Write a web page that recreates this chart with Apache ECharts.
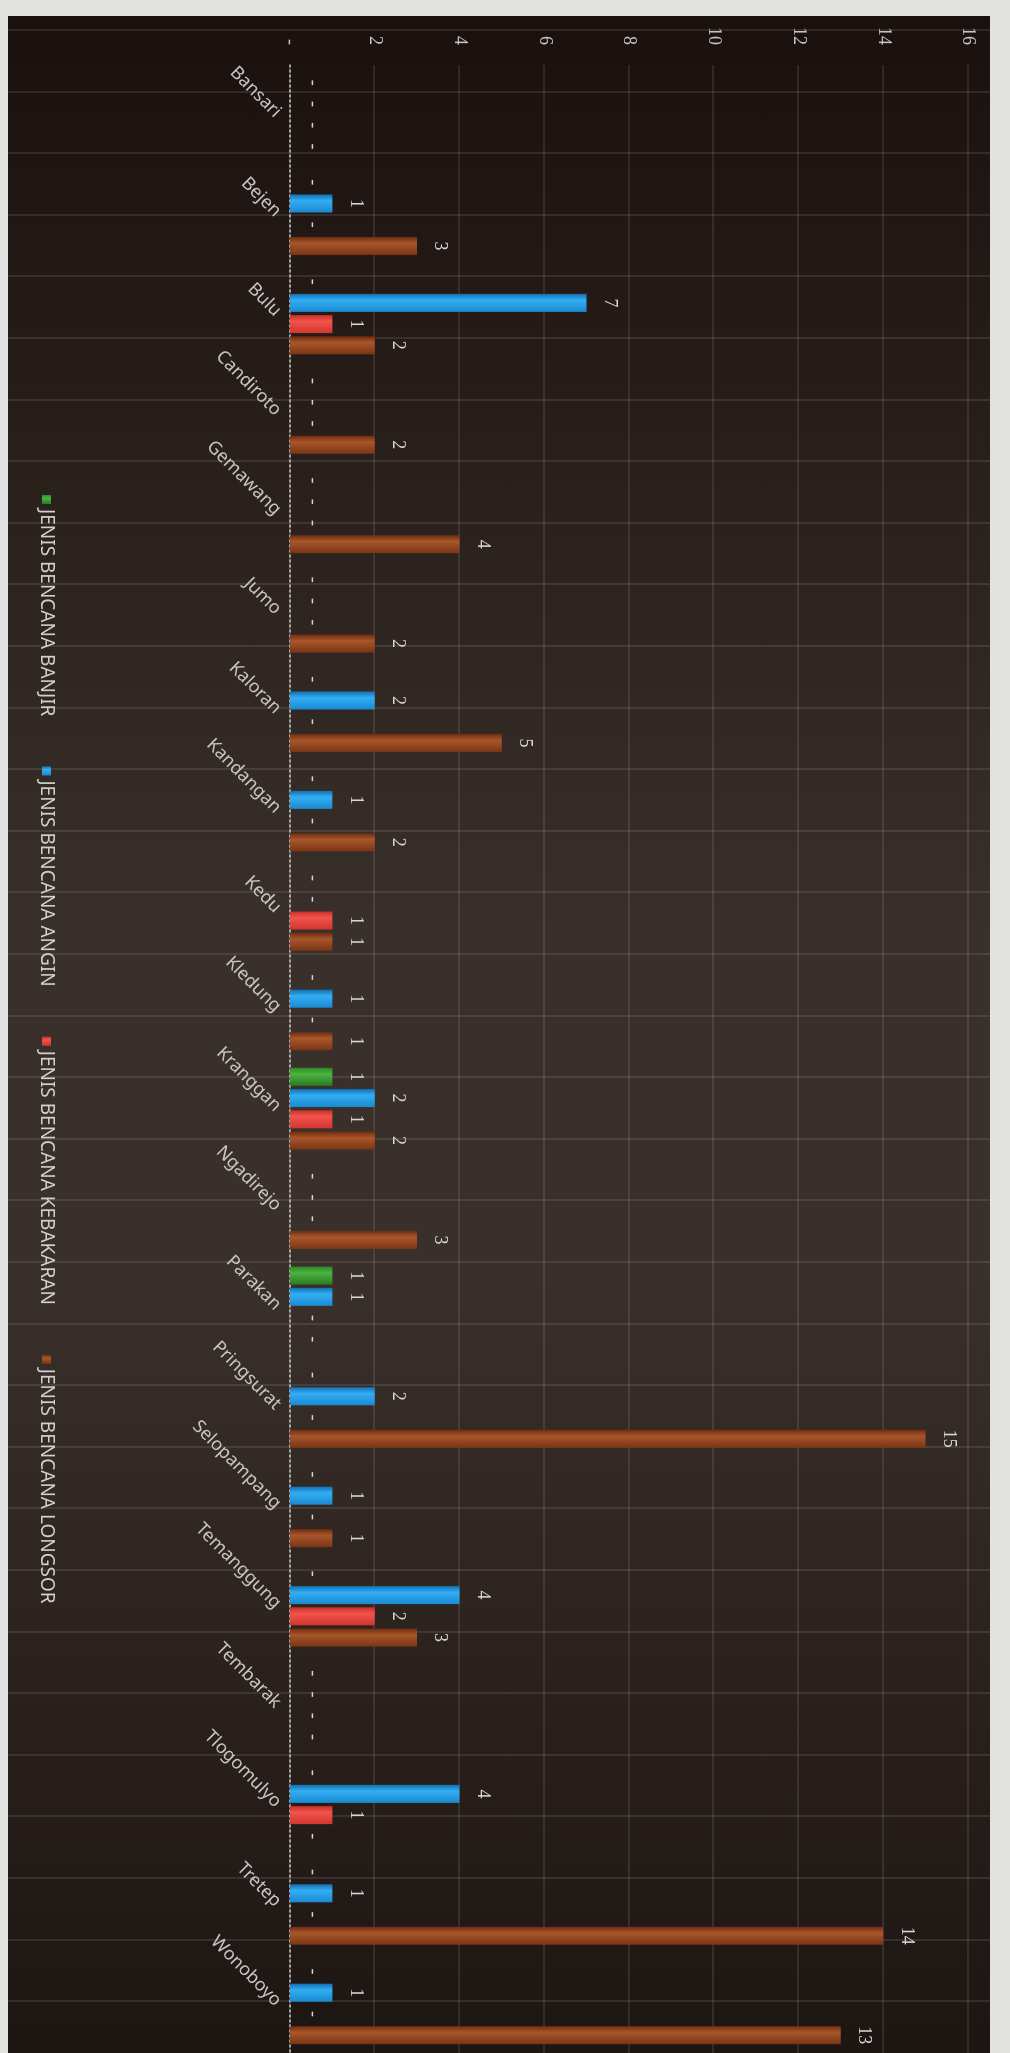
<!DOCTYPE html>
<html>
<head>
<meta charset="utf-8">
<script src="https://cdn.jsdelivr.net/npm/echarts@6/dist/echarts.min.js"></script>
<style>
  html, body { margin: 0; padding: 0; width: 1010px; height: 2053px; overflow: hidden; background: #e2e2e0; }
  /* photographed screen: dark backdrop with faint horizontal lines */
  #photo {
    position: absolute; left: 8px; top: 16px; width: 982px; height: 2037px;
    background:
      repeating-linear-gradient(to bottom, transparent 0, transparent 13px, rgba(210,205,200,0.12) 13px, rgba(210,205,200,0.12) 15px, transparent 15px, transparent 61.6px),
      linear-gradient(to bottom, #1a110f 0%, #261c18 18%, #3a302b 45%, #3a302b 62%, #2a211d 82%, #1d1512 100%);
  }
  /* the chart was shot turned a quarter clockwise */
  #main {
    position: absolute; left: 0; top: 0; width: 2053px; height: 1010px;
    transform-origin: 0 0; transform: translate(1010px, 0) rotate(90deg);
  }
</style>
</head>
<body>
<div id="photo"></div>
<div id="main"></div>
<script>
  const categories = ['Bansari', 'Bejen', 'Bulu', 'Candiroto', 'Gemawang', 'Jumo', 'Kaloran', 'Kandangan', 'Kedu', 'Kledung',
    'Kranggan', 'Ngadirejo', 'Parakan', 'Pringsurat', 'Selopampang', 'Temanggung', 'Tembarak', 'Tlogomulyo', 'Tretep', 'Wonoboyo'];
  const banjir = [0, 0, 0, 0, 0, 0, 0, 0, 0, 0, 1, 0, 1, 0, 0, 0, 0, 0, 0, 0];
  const angin = [0, 1, 7, 0, 0, 0, 2, 1, 0, 1, 2, 0, 1, 2, 1, 4, 0, 4, 1, 1];
  const kebakaran = [0, 0, 1, 0, 0, 0, 0, 0, 1, 0, 1, 0, 0, 0, 0, 2, 0, 1, 0, 0];
  const longsor = [0, 3, 2, 2, 4, 2, 5, 2, 1, 1, 2, 3, 0, 15, 1, 3, 0, 0, 14, 13];

  const seriesNames = ['JENIS BENCANA BANJIR', 'JENIS BENCANA ANGIN', 'JENIS BENCANA KEBAKARAN', 'JENIS BENCANA LONGSOR'];
  const seriesData = [banjir, angin, kebakaran, longsor];
  const palette = [
    ['#2d8a27', '#4cb341', '#2a7a22'],
    ['#1270b4', '#33aef2', '#1a8ad2'],
    ['#c92f28', '#f2544c', '#d2352e'],
    ['#6f2d10', '#a9562b', '#7a3514']
  ];

  const shade = (c) => new echarts.graphic.LinearGradient(0, 0, 1, 0, [
    { offset: 0, color: c[0] },
    { offset: 0.35, color: c[1] },
    { offset: 1, color: c[2] }
  ]);

  const myChart = echarts.init(document.getElementById('main'));
  myChart.setOption({
    backgroundColor: 'transparent',
    animation: false,
    textStyle: { fontFamily: 'Noto Sans' },
    legend: {
      bottom: 32,
      left: 490,
      itemGap: 50,
      itemWidth: 9,
      itemHeight: 9,
      icon: 'rect',
      textStyle: { color: '#cfcfcf', fontSize: 19, fontFamily: 'Noto Sans' }
    },
    grid: { left: 65, right: 0, top: 42, bottom: 290, containLabel: false },
    xAxis: {
      type: 'category',
      data: categories,
      axisTick: { show: false },
      axisLine: { lineStyle: { color: '#c8c8c8', type: [2, 3], width: 1.5 } },
      axisLabel: { rotate: 45, margin: 12, color: '#c4c4c4', fontSize: 18, fontFamily: 'Noto Sans' }
    },
    yAxis: {
      type: 'value',
      min: 0,
      max: 16,
      interval: 2,
      axisLine: { show: false },
      axisTick: { show: false },
      axisLabel: {
        margin: 20,
        color: '#c4c4c4',
        fontSize: 18,
        fontFamily: 'Liberation Serif',
        formatter: (v) => (v === 0 ? '-' : v)
      },
      splitLine: { lineStyle: { color: 'rgba(230,225,220,0.14)', width: 1.5 } }
    },
    series: seriesNames.map((name, i) => ({
      name: name,
      type: 'bar',
      data: seriesData[i],
      barWidth: 18,
      barGap: '18%',
      color: palette[i][1],
      itemStyle: { color: shade(palette[i]) },
      label: {
        show: true,
        position: 'top',
        distance: 14,
        color: '#d6d6d6',
        fontSize: 18,
        fontFamily: 'Liberation Serif',
        formatter: (p) => (p.value === 0 ? '-' : p.value)
      }
    }))
  });
</script>
</body>
</html>
